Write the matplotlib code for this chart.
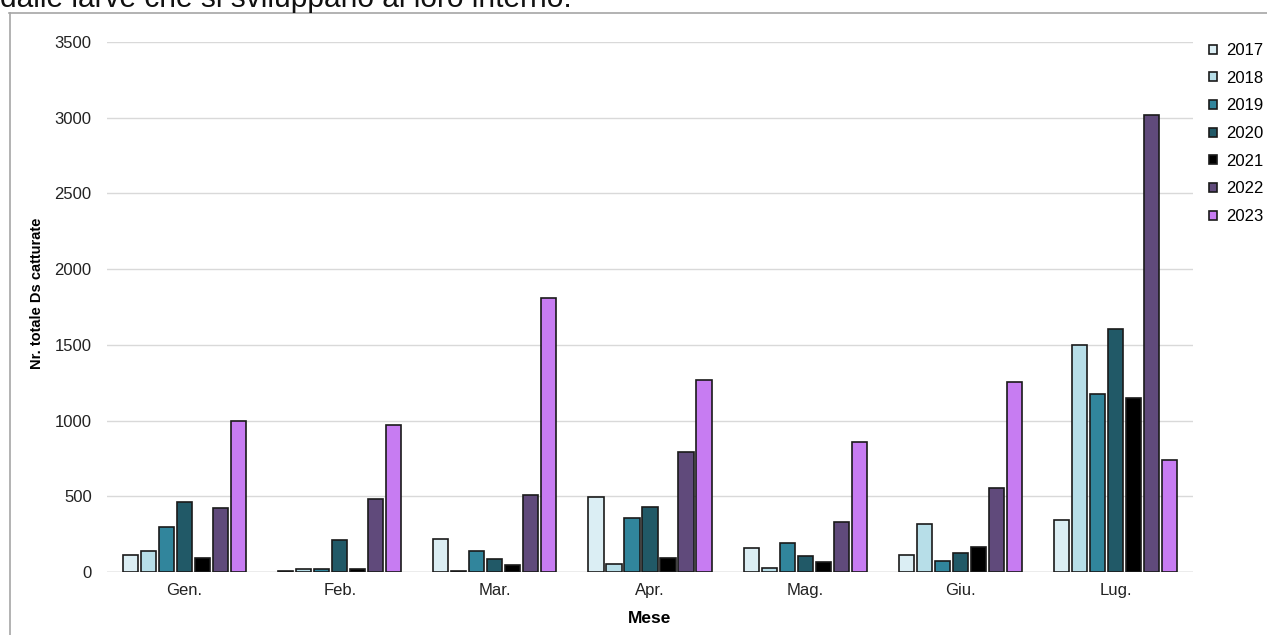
import numpy as np
import matplotlib.pyplot as plt
from matplotlib.lines import Line2D

plt.rcParams["font.family"] = ["Liberation Sans", "DejaVu Sans"]

# Data
months = ["Gen.", "Feb.", "Mar.", "Apr.", "Mag.", "Giu.", "Lug."]
years = ["2017", "2018", "2019", "2020", "2021", "2022", "2023"]
y2017 = [110, 7, 218, 498, 161, 115, 343]
y2018 = [137, 18, 9, 55, 29, 320, 1499]
y2019 = [297, 18, 137, 355, 190, 75, 1174]
y2020 = [462, 209, 88, 429, 104, 124, 1608]
y2021 = [95, 18, 44, 95, 66, 168, 1147]
y2022 = [425, 485, 507, 792, 328, 555, 3018]
y2023 = [1000, 973, 1810, 1265, 859, 1252, 738]
series = [y2017, y2018, y2019, y2020, y2021, y2022, y2023]
colors = ["#DBEEF4", "#B7DEE8", "#31859C", "#215967", "#000000", "#604A7B", "#C77CF2"]

fig = plt.figure(figsize=(12.67, 6.35), dpi=100)
ax = fig.add_axes([107 / 1267, 1 - 572 / 635, (1193 - 107) / 1267, 530 / 635])

x = np.arange(len(months))
pitch = 0.116
width = 0.097
for i, (vals, col, yr) in enumerate(zip(series, colors, years)):
    offs = (i - 3) * pitch
    ax.bar(x + offs, vals, width=width, color=col, edgecolor="#1a1a1a",
           linewidth=1.2, label=yr, zorder=3)

ax.set_xlim(-0.5, 6.5)
ax.set_ylim(0, 3500)
ax.set_yticks(range(0, 3501, 500))
ax.set_xticks(x)
ax.set_xticklabels(months)
ax.yaxis.grid(True, color="#D9D9D9", linewidth=1.0, zorder=0)
ax.axhline(0, color="#BFBFBF", linewidth=1.0, zorder=2)
for s in ax.spines.values():
    s.set_visible(False)
ax.tick_params(axis="y", length=0, pad=11, labelsize=12, labelcolor="#222222")
ax.tick_params(axis="x", length=0, pad=8, labelsize=12, labelcolor="#222222")

ax.set_ylabel("Nr. totale Ds catturate", fontsize=10.5, fontweight="bold")
ax.yaxis.set_label_coords(-0.058, 0.525)
ax.set_xlabel("Mese", fontsize=12.5, fontweight="bold", labelpad=9)

fig.legend(loc="upper left", bbox_to_anchor=(1209 / 1267, 1 - 43 / 635),
           frameon=False, fontsize=12, handlelength=0.45, handleheight=0.45,
           handletextpad=0.6, labelspacing=0.76, borderpad=0, borderaxespad=0)

# screenshot frame and cut-off caption line
fig.add_artist(Line2D([9.5 / 1267, 9.5 / 1267], [0, 1 - 13 / 635],
                      color="#A6A6A6", linewidth=1.2))
fig.add_artist(Line2D([9 / 1267, 1], [1 - 13 / 635, 1 - 13 / 635],
                      color="#A6A6A6", linewidth=1.2))
fig.text(0.0, 1 - 7 / 635, "dalle larve che si sviluppano al loro interno.",
         fontsize=21.5, va="baseline", ha="left", color="#111111")

fig.savefig("out.png", dpi=100)
